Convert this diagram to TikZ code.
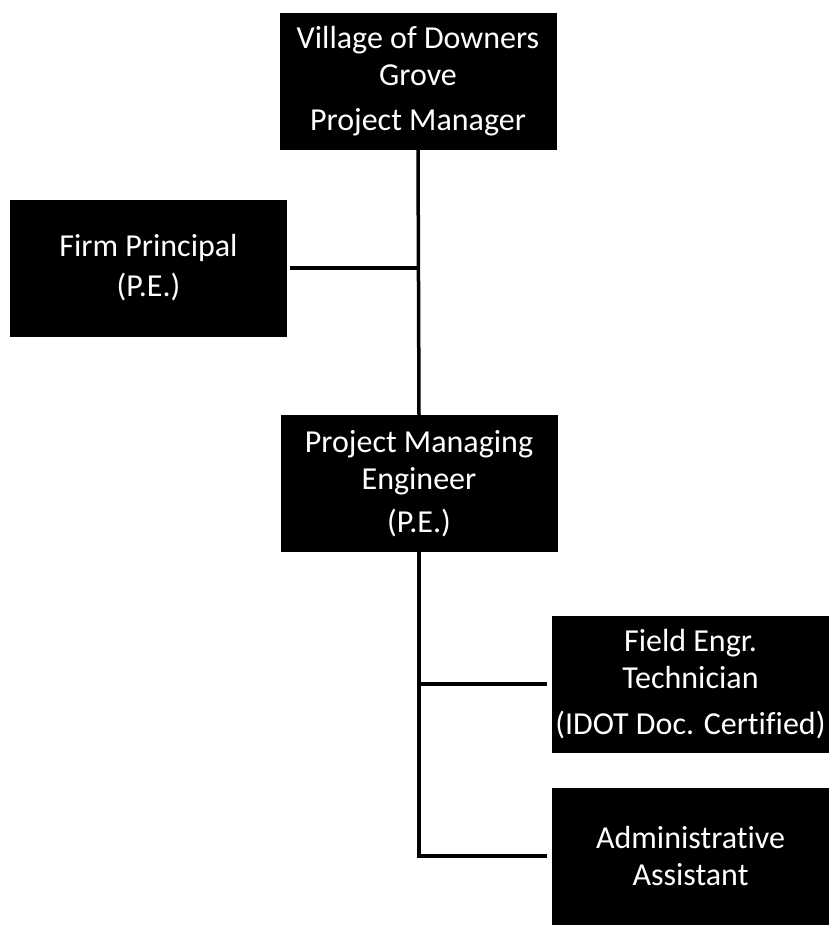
\documentclass[tikz,border=0pt]{standalone}
\usepackage{fontspec}
\setmainfont{Carlito}[Ligatures={NoCommon}]
\begin{document}
\begin{tikzpicture}[x=1pt,y=-1pt,
  orgbox/.style={rectangle, fill=black, text=white, inner sep=0pt,
    minimum width=277pt, minimum height=137pt, align=center,
    font=\fontsize{32}{37}\selectfont},
  link/.style={line width=3.5pt, line cap=butt}]
  \useasboundingbox (0,0) rectangle (833,930);
  \node[orgbox] (vdg) at (418,81) {Village of Downers\\Grove\\[8pt]Project Manager};
  \node[orgbox] (fp) at (148.5,268) {Firm Principal\\[3pt](P.E.)};
  \node[orgbox] (pme) at (419,483.5) {Project Managing\\Engineer\\[6pt](P.E.)};
  \node[orgbox] (fet) at (690.5,684) {Field Engr.\\Technician\\[9pt](IDOT Doc. Certified)};
  \node[orgbox] (aa) at (690.5,856) {Administrative\\Assistant};
  % trunk from the village down to the managing engineer
  \draw[link] (vdg.south) -- (pme.north);
  \coordinate (fpj) at (vdg.south |- fp.east);
  \draw[link, shorten <=3pt] (fp.east) -- (fpj);
  % staff under the managing engineer
  \coordinate (fetj) at (pme.south |- fet.west);
  \draw[link, shorten >=5pt] (pme.south) |- (aa.west);
  \draw[link, shorten >=5pt] (fetj) -- (fet.west);
\end{tikzpicture}
\end{document}
